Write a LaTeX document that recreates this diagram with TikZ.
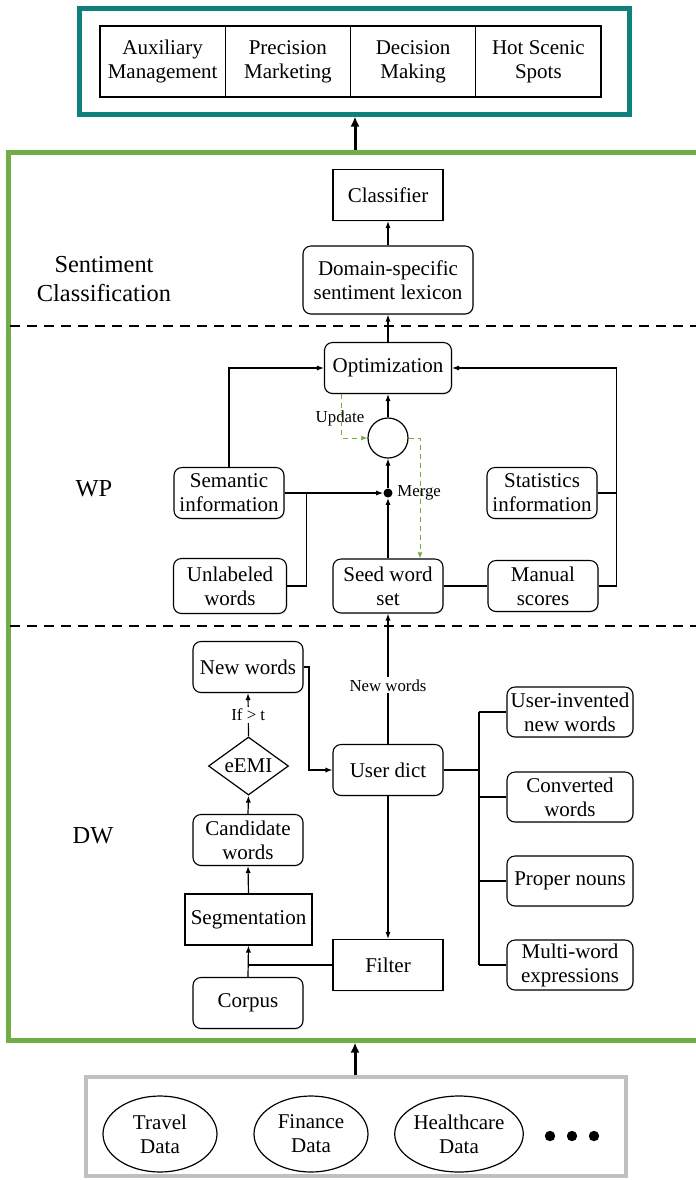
\documentclass[tikz,border=0pt]{standalone}
\usepackage{fontspec}
\setmainfont{Liberation Serif}
\usetikzlibrary{arrows.meta,shapes.geometric,shadows}
\definecolor{tealc}{RGB}{16,128,122}
\definecolor{greenc}{RGB}{112,173,71}
\definecolor{grayc}{RGB}{192,192,192}
\begin{document}
\begin{tikzpicture}[x=0.5pt,y=-0.5pt,
  every node/.style={font=\fontsize{10.5}{12}\selectfont, align=center, inner sep=1pt},
  base/.style={draw, line width=0.55pt, fill=white, drop shadow={shadow xshift=0.6pt,shadow yshift=-0.6pt,opacity=0.15}},
  rbox/.style={base, rounded corners=4pt, minimum width=55pt, minimum height=25.5pt},
  sbox/.style={base, minimum width=55pt, minimum height=25.5pt},
  cell/.style={base, minimum width=62.6pt, minimum height=35.5pt},
  conn/.style={line width=0.6pt, -{Latex[length=3.5pt,width=2.6pt]}},
  plain/.style={line width=0.6pt},
  bigarrow/.style={line width=1.5pt, -{Latex[length=5pt,width=4.5pt]}},
  upd/.style={greenc, line width=0.5pt, dash pattern=on 2.5pt off 2pt, -{Latex[length=3pt,width=2.4pt]}},
  sep/.style={line width=0.6pt, dash pattern=on 5pt off 3.5pt},
  small/.style={font=\fontsize{8.4}{10}\selectfont, inner sep=1pt},
  sect/.style={font=\fontsize{12.2}{14.2}\selectfont},
  dataell/.style={ellipse, draw, line width=0.6pt, minimum width=57pt, minimum height=38pt, inner sep=0pt}
]
\useasboundingbox (0,0) rectangle (696,1180);
\clip (0,0) rectangle (696,1180);

% frames
\node[draw=tealc, line width=2.5pt, minimum width=275pt, minimum height=53pt] (app) at (354,61) {};
\node[draw=greenc, line width=2.5pt, minimum width=347pt, minimum height=444pt] (core) at (355,596) {};
\node[draw=grayc, line width=2pt, minimum width=270pt, minimum height=49.5pt] (data) at (356,1126.5) {};

% application cells
\node[cell] (aux) at (162.6,61.5) {Auxiliary\\Management};
\node[cell] (pm) at (287.9,61.5) {Precision\\Marketing};
\node[cell] (dm) at (413.1,61.5) {Decision\\Making};
\node[cell] (hs) at (538.4,61.5) {Hot Scenic\\Spots};

% separators
\draw[sep] (10,326) -- (696,326);
\draw[sep] (10,626) -- (696,626);

% section labels
\node[sect] (lsc) at (104,279) {Sentiment\\Classification};
\node[sect] (lwp) at (94,489) {WP};
\node[sect] (ldw) at (93,836) {DW};

% sentiment classification
\node[sbox] (cls) at (388,195) {Classifier};
\node[rbox, minimum width=85pt, minimum height=34pt] (lex) at (388,280) {Domain-specific\\sentiment lexicon};

% WP
\node[rbox, minimum width=63.5pt] (opt) at (388,368) {Optimization};
\node[circle, draw, line width=0.6pt, fill=white, minimum size=20pt] (circ) at (388,438) {};
\node[circle, fill=black, minimum size=4.5pt, inner sep=0pt] (mrg) at (388,493) {};
\node[small, anchor=west] (mrgl) at (395,493) {Merge};
\node[small] (updl) at (340,418) {Update};
\node[rbox, minimum height=27pt] (seed) at (388,586) {Seed word\\set};
\node[rbox] (sem) at (229,493) {Semantic\\information};
\node[rbox, minimum width=56.5pt, minimum height=27.5pt] (unl) at (230,586) {Unlabeled\\words};
\node[rbox] (stat) at (542,493) {Statistics\\information};
\node[rbox] (man) at (543,586) {Manual\\scores};

\coordinate (jl) at (306.7,493);
\coordinate (jr) at (616.6,368);
\coordinate (ul) at (341.5,438);
\coordinate (ur) at (420,438);

% DW
\node[rbox] (nw) at (248,667) {New words};
\node[diamond, draw, line width=0.6pt, fill=white, minimum width=40pt, minimum height=29pt, aspect=1.38, inner sep=0pt] (emi) at (248.5,766) {eEMI};
\node[rbox] (cand) at (248,840) {Candidate\\words};
\node[sbox, minimum width=63.5pt] (segm) at (248.5,919.5) {Segmentation};
\node[rbox] (corp) at (248,1003) {Corpus};
\node[sbox] (filt) at (388,965) {Filter};
\node[rbox] (ud) at (388,770) {User dict};
\node[rbox, minimum width=63pt, minimum height=25pt] (inv) at (570,712) {User-invented\\new words};
\node[rbox, minimum width=63pt, minimum height=25pt] (conv) at (570,797) {Converted\\words};
\node[rbox, minimum width=63pt, minimum height=25pt] (prop) at (570,881) {Proper nouns};
\node[rbox, minimum width=63pt, minimum height=25pt] (mwe) at (570,965) {Multi-word\\expressions};
\coordinate (bx) at (479,770);
\coordinate (nx) at (309,667);

% data sources
\node[dataell] (trv) at (160,1134) {Travel\\Data};
\node[dataell] (fin) at (311,1134) {Finance\\Data};
\node[dataell, minimum width=53pt] (hlt) at (459,1134) {Healthcare\\Data};
\node[circle, fill=black, minimum size=5.2pt, inner sep=0pt] (d1) at (550,1136) {};
\node[circle, fill=black, minimum size=5.2pt, inner sep=0pt] (d2) at (572,1136) {};
\node[circle, fill=black, minimum size=5.2pt, inner sep=0pt] (d3) at (594,1136) {};

% connectors between frames
\draw[bigarrow] (core.north) -- (core.north |- app.south);
\draw[bigarrow] (data.north -| core.north) -- (core.south);

% sentiment classification connectors
\draw[conn] (lex.north) -- (cls.south);
\draw[conn] (opt.north) -- (lex.south);

% WP connectors
\draw[conn] (circ.north) -- (opt.south);
\draw[conn] (mrg.north) -- (circ.south);
\draw[conn] (seed.north) -- (mrg.south);
\draw[conn] (sem.east) -- (mrg.west);
\draw[plain] (unl.east) -| (jl);
\draw[conn] (sem.north) |- (opt.west);
\draw[plain] (stat.east) -- (stat.east -| jr);
\draw[conn] (man.east) -| (jr) -- (opt.east);
\draw[plain] (seed.east) -- (man.west);
\draw[upd] (ul |- opt.south) -- (ul) -- (circ.west);
\draw[upd] (circ.east) -- (ur) -- (ur |- seed.north);

% DW connectors
\draw[conn] (ud.north) -- node[small, fill=white, pos=0.45] (nwl) {New words} (seed.south);
\draw[conn] (ud.south) -- (filt.north);
\draw[plain] (filt.west) -- (filt.west -| corp.north);
\draw[conn] (corp.north) -- (segm.south);
\draw[conn] (segm.north) -- (cand.south);
\draw[conn] (cand.north) -- (emi.south);
\draw[conn] (emi.north) -- node[small, fill=white] (ifl) {If > t} (nw.south);
\draw[conn] (nw.east) -- (nx) |- (ud.west);
\draw[plain] (ud.east) -- (bx);
\draw[plain] (bx |- inv.west) -- (bx |- mwe.west);
\draw[plain] (bx |- inv.west) -- (inv.west);
\draw[plain] (bx |- conv.west) -- (conv.west);
\draw[plain] (bx |- prop.west) -- (prop.west);
\draw[plain] (bx |- mwe.west) -- (mwe.west);
\end{tikzpicture}
\end{document}
